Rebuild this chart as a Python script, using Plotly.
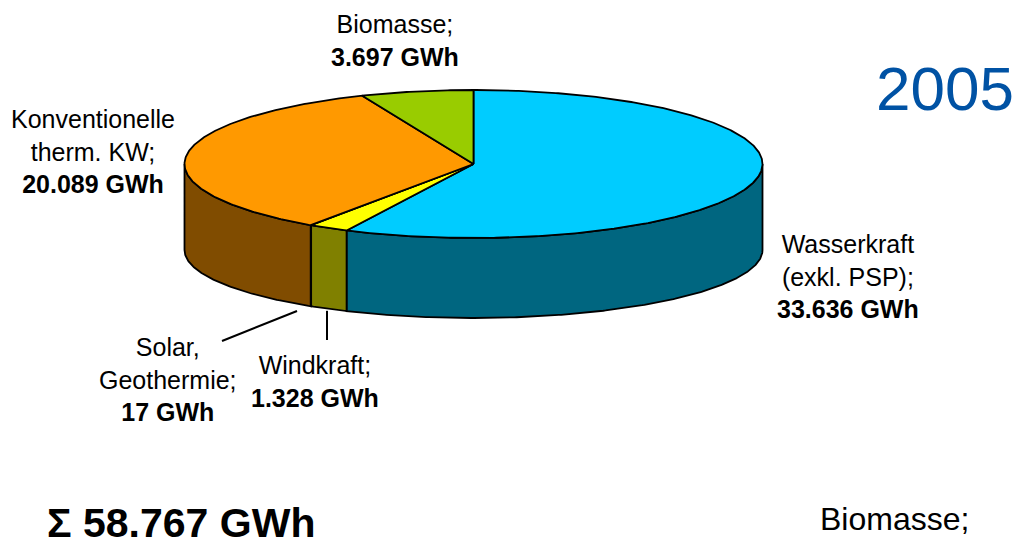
import numpy as np
import plotly.graph_objects as go

# --- data -------------------------------------------------------------
year = "2005"
sources = ["Wasserkraft<br>(exkl. PSP)", "Windkraft", "Solar,<br>Geothermie",
           "Konventionelle<br>therm. KW", "Biomasse"]
gwh = [33636, 1328, 17, 20089, 3697]
top_colors = ["#00CCFF", "#FFFF00", "#FF6600", "#FF9900", "#99CC00"]
side_colors = ["#006680", "#808000", "#803300", "#804C00", "#4C6600"]

# --- layout of the drawing (pixel-like axis units, y downward) --------
W, H = 1020, 545
CX, RX = 473.5, 289.0
CY_TOP, RY_TOP = 164.0, 74.0
CY_BOT, RY_BOT = 250.0, 68.0
FONT = "Liberation Sans, Arial, sans-serif"
LABEL_SIZE = 25

# label anchor (x, y) and optional leader line (x0, y0, x1, y1)
label_pos = [(848, 276), (315, 381), (168, 379), (93, 151), (395, 40)]
leaders = [None, "vertical", (297, 311, 222, 341), None, None]


def de_num(v):
    return f"{v:,}".replace(",", ".")


def top_pt(theta):
    t = np.radians(theta)
    return CX + RX * np.sin(t), CY_TOP - RY_TOP * np.cos(t)


def bot_pt(theta):
    t = np.radians(theta)
    return CX + RX * np.sin(t), CY_BOT - RY_BOT * np.cos(t)


total = sum(gwh)
spans = [360.0 * v / total for v in gwh]
starts = np.concatenate([[0.0], np.cumsum(spans)[:-1]])

fig = go.Figure()
LINE = dict(color="black", width=1.8)


def add_poly(xs, ys, fill):
    fig.add_trace(go.Scatter(x=xs, y=ys, mode="lines", fill="toself",
                             fillcolor=fill, line=LINE, hoverinfo="skip",
                             showlegend=False))


# side walls of the cylinder (only the front half is visible)
for a, s, col in zip(starts, spans, side_colors):
    lo, hi = max(a, 90.0), min(a + s, 270.0)
    if hi <= lo:
        continue
    th = np.linspace(lo, hi, max(int((hi - lo) * 2), 2))
    tx, ty = top_pt(th)
    bx, by = bot_pt(th[::-1])
    xs = np.concatenate([tx, bx, tx[:1]])
    ys = np.concatenate([ty, by, ty[:1]])
    add_poly(xs, ys, col)

# top faces
for a, s, col in zip(starts, spans, top_colors):
    th = np.linspace(a, a + s, max(int(s * 2), 2))
    ax, ay = top_pt(th)
    xs = np.concatenate([[CX], ax, [CX]])
    ys = np.concatenate([[CY_TOP], ay, [CY_TOP]])
    add_poly(xs, ys, col)

# leader lines
for i, ld in enumerate(leaders):
    if ld is None:
        continue
    if ld == "vertical":
        mx, my = bot_pt(starts[i] + spans[i] / 2)
        x0, y0, x1, y1 = mx - 1.5, my + 2, mx - 1.5, 340
    else:
        x0, y0, x1, y1 = ld
    fig.add_trace(go.Scatter(x=[x0, x1], y=[y0, y1], mode="lines",
                             line=dict(color="black", width=2),
                             hoverinfo="skip", showlegend=False))

annotations = []
for name, v, (lx, ly) in zip(sources, gwh, label_pos):
    annotations.append(dict(
        x=lx, y=ly, xref="x", yref="y", showarrow=False,
        text=f"{name};<br><b>{de_num(v)} GWh</b>", align="center",
        xanchor="center", yanchor="middle",
        font=dict(family=FONT, size=LABEL_SIZE, color="black")))

annotations.append(dict(x=945, y=88, xref="x", yref="y", showarrow=False,
                        text=year, xanchor="center", yanchor="middle",
                        font=dict(family=FONT, size=62, color="#0052A4")))
annotations.append(dict(x=45, y=523, xref="x", yref="y", showarrow=False,
                        text=f"<b>Σ {de_num(total)} GWh</b>",
                        xanchor="left", yanchor="middle",
                        font=dict(family=FONT, size=41, color="black")))
annotations.append(dict(x=894, y=519, xref="x", yref="y", showarrow=False,
                        text="Biomasse;", xanchor="center", yanchor="middle",
                        font=dict(family=FONT, size=32, color="black")))

fig.update_layout(
    width=W, height=H, margin=dict(l=0, r=0, t=0, b=0),
    paper_bgcolor="white", plot_bgcolor="white",
    xaxis=dict(range=[0, W], visible=False, fixedrange=True),
    yaxis=dict(range=[H, 0], visible=False, fixedrange=True),
    annotations=annotations, showlegend=False,
)

fig.write_html("out.html")
